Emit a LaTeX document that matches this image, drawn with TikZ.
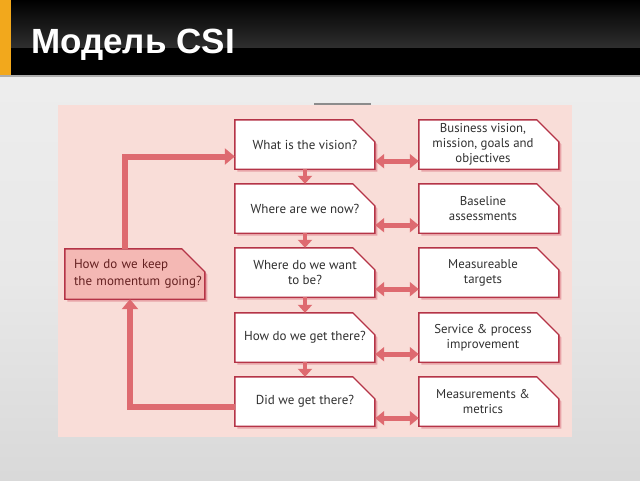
\documentclass[tikz,border=0pt]{standalone}
\usepackage{fontspec}
\setmainfont{Liberation Sans}
\newfontfamily\diag{PT Sans}
\usetikzlibrary{arrows.meta,backgrounds,calc}
\definecolor{txtcol}{HTML}{303030}
\definecolor{ltxt}{HTML}{642020}
\definecolor{bordcol}{HTML}{B53447}
\definecolor{arrcol}{HTML}{DE6A70}
\definecolor{shadcol}{HTML}{E8A4A8}
\definecolor{panelcol}{HTML}{F9DDD8}
\definecolor{lfill}{HTML}{F4B8B4}
\definecolor{orangecol}{HTML}{F2A81C}
\newcommand\boxpath[2]{(#1.south west) -- (#1.north west) -- ++({140-#2},0) -- ++(#2,#2) |- (#1.south west) -- cycle}
\begin{document}
\begin{tikzpicture}[x=1pt,y=-1pt,
  qbox/.style={font=\diag\fontsize{13}{15}\selectfont, text=txtcol, align=center, minimum width=140pt, minimum height=49pt, inner sep=2pt},
  abox/.style={qbox, font=\diag\fontsize{12.8}{15}\selectfont, minimum width=128pt},
  kbox/.style={font=\diag\fontsize{13}{17}\selectfont, text=ltxt, align=left, text width=134pt, inner xsep=9pt, inner ysep=0pt, minimum height=50pt},
  loopline/.style={draw=arrcol, line width=6pt, -{Triangle[width=16pt,length=10pt]}},
  downarr/.style={draw=arrcol, line width=4pt, -{Triangle[width=14pt,length=8pt]}},
  dblarr/.style={draw=arrcol, line width=5pt, {Triangle[width=14pt,length=9pt]}-{Triangle[width=14pt,length=9pt]}},
  outline/.style={draw=bordcol, line width=1.4pt},
  shad/.style={fill=shadcol, transform canvas={xshift=2.5pt,yshift=-2.5pt}}
]
\useasboundingbox (0,0) rectangle (640,480);

% title
\node[anchor=base west, inner sep=0pt, text=white, font=\bfseries\fontsize{35}{40}\selectfont] (title) at (31,53) {Модель CSI};

% central column
\node[qbox] (a1) at (305,144.5) {What is the vision?};
\node[qbox] (a2) at (305,208.5) {Where are we now?};
\node[qbox] (a3) at (305,272.5) {Where do we want\\to be?};
\node[qbox] (a4) at (305,337.5) {How do we get there?};
\node[qbox] (a5) at (305,401.5) {Did we get there?};
% right column
\node[abox] (b1) at (483,144.5) {Business vision,\\mission, goals and\\objectives};
\node[abox] (b2) at (483,208.5) {Baseline\\assessments};
\node[abox] (b3) at (483,272.5) {Measureable\\targets};
\node[abox] (b4) at (483,337.5) {Service \& process\\improvement};
\node[abox] (b5) at (483,401.5) {Measurements \&\\metrics};
% left box (west edge at x=65)
\node[kbox] (l) at (141,274) {How do we keep\\the momentum going?};

\begin{scope}[on background layer]
  % slide background
  \shade[top color=white!93!black, bottom color=white!85!black, middle color=white!91!black] (0,76) rectangle (640,480);
  % title bar
  \fill[black] (0,0) rectangle (640,75);
  \shade[top color=black, bottom color=white!18!black] (0,0) rectangle (640,47);
  \fill[orangecol] (0,0) rectangle (11,75);
  \draw[white!68!black, line width=1.2pt] (0,76) -- (640,76);
  % panel
  \fill[panelcol] (58,105) rectangle (572,437);
  \draw[white!55!black, line width=1.3pt] (314,104) -- (371,104);
  % boxes
  \foreach \n in {a1,a2,a3,a4,a5,b1,b2,b3,b4,b5} {
    \fill[shad] \boxpath{\n}{22};
    \filldraw[outline, fill=white] \boxpath{\n}{22};
  }
  \fill[shad] \boxpath{l}{23};
  \filldraw[outline, fill=lfill] \boxpath{l}{23};
\end{scope}

% connectors
\draw[loopline] ([xshift=-16pt]l.north) |- ([yshift=-12pt]a1.west);
\draw[loopline] ([yshift=-5.5pt]a5.west) -| ([xshift=-11pt]l.south);
\foreach \i/\j in {a1/a2,a2/a3,a3/a4,a4/a5} \draw[downarr] (\i.south) -- (\j.north);
\foreach \i/\j in {a1/b1,a2/b2,a3/b3,a4/b4,a5/b5} \draw[dblarr] ([yshift=8pt]\i.south east) -- ([yshift=8pt]\j.south west);
\end{tikzpicture}
\end{document}
